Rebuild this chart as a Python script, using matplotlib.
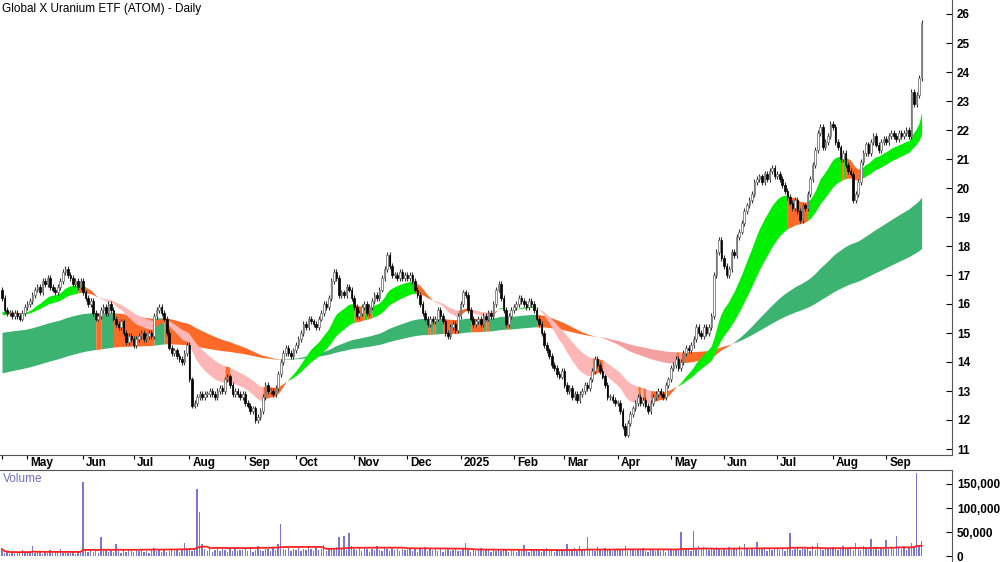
import numpy as np
import matplotlib
matplotlib.use("Agg")
import matplotlib.pyplot as plt

plt.rcParams['font.family'] = ['Liberation Sans', 'DejaVu Sans']

month_labels = ["", "May", "Jun", "Jul", "Aug", "Sep", "Oct", "Nov", "Dec", "2025", "Feb",
                "Mar", "Apr", "May", "Jun", "Jul", "Aug", "Sep"]
closes_by_month = [
    [16.2,15.8,15.7,15.7,15.6,15.7,15.6,15.5,15.7,15.9],
    [16.0,16.1,16.3,16.5,16.6,16.4,16.8,16.7,16.9,16.6,16.5,16.4,16.6,16.8,17.1,17.2,17.0,16.9,16.7,16.8,16.6,16.8],
    [16.4,16.2,16.0,16.1,15.7,15.5,15.6,15.8,15.9,15.7,16.0,15.8,15.5,15.3,15.2,15.4,15.0,14.7,14.9,14.8],
    [14.6,14.8,14.9,15.0,14.8,14.9,15.0,14.9,15.6,15.8,15.9,15.7,15.5,15.0,14.5,14.3,14.4,14.2,14.1,14.0,14.3,14.6],
    [13.4,12.5,12.6,12.8,12.9,12.8,12.9,12.9,13.0,12.9,12.8,13.0,13.1,13.0,13.4,13.5,13.2,12.9,13.0,12.9,12.8,12.9],
    [12.6,12.5,12.3,12.4,12.0,12.1,12.3,12.8,13.2,13.0,13.0,12.9,13.1,13.6,14.0,14.3,14.5,14.3,14.2,14.4],
    [14.6,14.8,15.0,15.3,15.2,15.5,15.4,15.3,15.2,15.5,15.7,16.0,15.9,16.2,16.8,17.1,16.9,16.3,16.4,16.3,16.6,16.5,16.2],
    [15.9,15.6,15.7,15.9,16.0,15.7,15.9,16.1,16.3,16.2,16.5,16.9,17.2,17.7,17.3,17.0,17.0,16.9,17.1,16.9,17.0],
    [16.9,17.0,16.8,16.5,16.3,16.0,15.7,15.5,15.3,15.5,15.4,15.5,15.8,15.6,15.4,15.0,14.9,15.2,15.3,15.1,15.6],
    [16.0,16.4,16.3,15.8,15.5,15.3,15.4,15.5,15.3,15.6,15.5,15.7,15.6,16.0,16.5,16.7,16.2,15.8,15.3,15.6,15.8],
    [15.9,16.0,16.2,16.1,16.0,15.9,16.1,16.0,15.8,15.5,15.3,15.0,14.6,14.4,14.2,13.9,13.8,13.6,13.5,13.7],
    [13.2,13.0,13.1,12.8,12.9,12.7,12.9,13.0,13.2,13.1,13.4,13.7,14.1,13.9,13.7,13.5,13.2,12.8,12.8,12.7,12.6],
    [12.6,12.3,11.8,11.5,11.9,12.2,12.4,12.6,12.8,12.6,12.7,12.5,12.3,12.6,12.8,12.9,13.0,12.9,12.8,13.2,13.4],
    [13.8,13.9,14.1,13.8,14.0,14.3,14.5,14.4,14.6,14.8,15.2,15.0,14.9,15.2,15.0,15.2,15.6,17.0,17.8,18.2,17.6],
    [17.3,17.0,17.2,17.8,17.7,18.3,18.5,18.8,19.2,19.4,19.6,19.8,20.2,20.3,20.4,20.2,20.5,20.3,20.6,20.7,20.4],
    [20.5,20.3,20.1,19.9,19.7,19.5,19.3,19.6,19.2,18.9,19.4,19.3,19.8,20.3,20.8,21.3,21.9,22.1,21.4,21.6,21.8,22.2],
    [22.1,21.6,21.4,21.0,21.2,20.8,20.6,20.5,19.6,19.8,20.2,20.9,21.2,21.5,21.2,21.6,21.8,21.5,21.3,21.6,21.7],
    [21.6,21.8,21.9,21.8,21.7,21.9,21.8,21.9,22.0,21.8,23.3,22.9,23.2,23.8,25.7],
]
volume_k_by_month = [
    [15,6,8,5,10,7,9,6,12,8],
    [7,9,22,6,8,11,5,9,7,12,6,8,10,14,7,9,6,11,8,5,10,7],
    [155,12,9,14,8,11,7,40,10,13,9,16,8,25,11,7,12,9,14,10],
    [8,12,10,15,9,11,7,13,18,10,12,9,14,8,11,16,10,13,9,12,28,15],
    [18,10,12,140,92,25,14,11,16,9,13,20,10,15,12,9,14,11,17,10,13,12],
    [15,11,18,9,13,22,12,10,16,14,11,19,13,26,66,15,12,18,10,14],
    [13,20,11,16,12,22,14,10,18,13,15,24,11,17,14,12,19,40,16,42,13,48,21],
    [15,12,18,11,20,14,9,16,12,22,13,10,17,14,11,19,12,15,10,16,13],
    [12,18,11,14,9,16,13,20,10,15,12,17,11,14,9,13,18,10,12,15,11],
    [10,14,28,12,9,15,11,13,17,10,12,16,9,14,11,13,10,15,12,9,14],
    [11,9,13,10,24,12,8,14,10,16,11,9,13,18,10,12,9,15,11,13],
    [12,26,10,14,18,11,22,13,16,40,12,15,10,19,13,11,17,12,14,10,16],
    [18,12,15,22,11,16,13,10,14,12,17,11,9,15,12,10,14,11,13,9,12],
    [14,11,16,13,50,12,18,15,11,52,17,22,14,20,16,12,18,13,19,15,12],
    [16,13,20,12,17,14,22,11,25,15,13,18,12,30,16,14,19,11,15,13,17],
    [14,12,18,11,16,48,13,15,20,12,17,14,19,11,22,13,28,16,12,18,14,15],
    [20,15,12,18,22,14,16,19,13,27,15,12,21,17,14,35,16,20,13,18,15],
    [34,16,20,14,42,18,15,22,13,17,28,19,172,21,32],
]
ema_seeds = {"sf": 15.7, "ss": 15.6, "lf": 15.0, "ls": 13.6}
price_ticks = list(range(11, 27))
vol_ticks = [0, 50000, 100000, 150000]

close = np.array([v for m in closes_by_month for v in m])
vol = np.array([v for m in volume_k_by_month for v in m]) * 1000.0
n = len(close)
idx = np.arange(n)
opn = np.concatenate([[close[0] + 0.3], close[:-1]])
month_starts = np.cumsum([0] + [len(m) for m in closes_by_month])[:-1]

def ema(x, span, seed):
    a = 2.0 / (span + 1)
    out = np.empty(len(x)); prev = seed
    for i, v in enumerate(x):
        prev = prev + a * (v - prev); out[i] = prev
    return out

sf = ema(close, 18, ema_seeds["sf"]); ss = ema(close, 36, ema_seeds["ss"])
lf = ema(close, 105, ema_seeds["lf"]); ls = ema(close, 210, ema_seeds["ls"])

fig = plt.figure(figsize=(10, 5.62), dpi=100)
ax = fig.add_axes([0.0, 1 - 455/562, 0.952, 455/562])
axv = fig.add_axes([0.0, 0.0, 0.952, 1 - 470/562])

def ribbon(f, s, up, mixed, down):
    cols = []
    for i in range(n):
        if f[i] >= s[i]:
            cols.append(up if close[i] >= f[i] else mixed)
        else:
            cols.append(down if close[i] <= f[i] else mixed)
    start = 0
    for i in range(1, n + 1):
        if i == n or cols[i] != cols[start]:
            sl = slice(start, min(i + 1, n))
            ax.fill_between(idx[sl], f[sl], s[sl], color=cols[start], lw=0, zorder=1)
            start = i

ribbon(lf, ls, "#3cb371", "#ff6a28", "#f4a0a0")
ribbon(sf, ss, "#00ee00", "#ff6a28", "#ffb6b6")

hi = np.maximum(opn, close) + 0.1
lo = np.minimum(opn, close) - 0.1
ax.vlines(idx, lo, hi, color="#333333", lw=0.8, zorder=2)
up = close >= opn
body_b = np.minimum(opn, close)
body_h = np.maximum(np.abs(close - opn), 0.04)
ax.bar(idx[~up], body_h[~up], bottom=body_b[~up], width=0.65, color="black", edgecolor="black", lw=0.5, zorder=3)
ax.bar(idx[up], body_h[up], bottom=body_b[up], width=0.65, color="white", edgecolor="#777777", lw=0.6, zorder=3)

xl = (-0.8, n + 11)
ax.set_xlim(xl); axv.set_xlim(xl)
ax.set_ylim(26 - 441/29, 26 + 14/29)
ax.yaxis.tick_right()
ax.set_yticks(price_ticks)
ax.tick_params(axis="y", direction="in", length=4, labelsize=8.5)
for lab in ax.get_yticklabels():
    lab.set_fontweight("bold")
ax.set_xticks(month_starts)
ax.set_xticklabels([])
ax.tick_params(axis="x", direction="out", length=3)
for s in ["top", "left"]:
    ax.spines[s].set_visible(False)
ax.spines["right"].set_color("#555555"); ax.spines["bottom"].set_color("#555555")
for ms, lab in zip(month_starts, month_labels):
    if lab:
        ax.text(ms + 1.2, -0.005, lab, transform=ax.get_xaxis_transform(), ha="left", va="top",
                fontsize=8.5, fontweight="bold")
ax.text(0.002, 0.995, "Global X Uranium ETF (ATOM) - Daily", transform=fig.transFigure,
        ha="left", va="top", fontsize=8.5)

axv.bar(idx, vol, width=0.55, color="#7878d4", zorder=2)
ma = np.array([vol[max(0, i - 49):i + 1].mean() for i in range(n)])
axv.plot(idx, ma, color="#ff2020", lw=1.3, zorder=3)
axv.set_ylim(-12000, 179000)
axv.yaxis.tick_right()
axv.set_yticks(vol_ticks)
axv.set_yticklabels(["0", "50,000", "100,000", "150,000"], fontsize=8.5, fontweight="bold")
axv.tick_params(axis="y", direction="in", length=4)
axv.set_xticks([])
for s in ["left", "bottom"]:
    axv.spines[s].set_visible(False)
axv.spines["right"].set_color("#555555"); axv.spines["top"].set_color("#555555")
axv.text(0.003, 0.97, "Volume", transform=axv.transAxes, ha="left", va="top", fontsize=8.5, color="#7070c0")

fig.savefig("out.png", dpi=100)
